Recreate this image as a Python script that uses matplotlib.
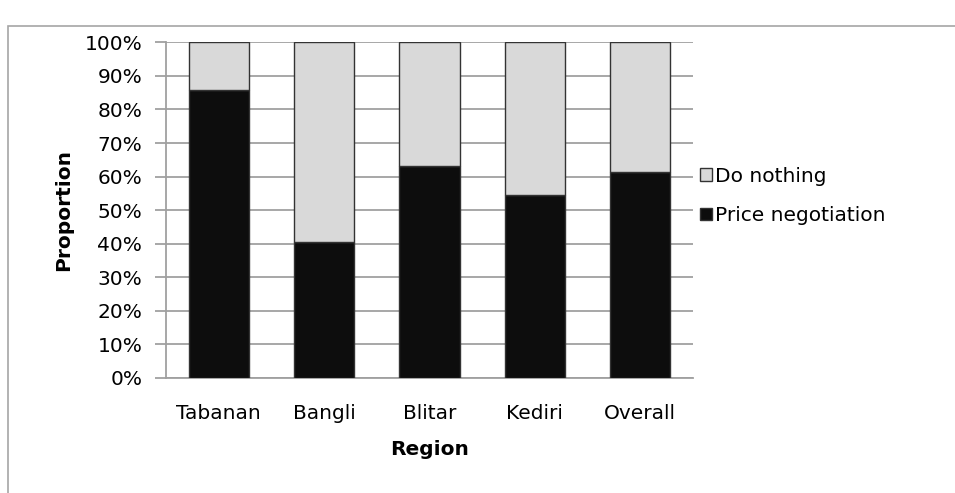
import matplotlib.pyplot as plt
from matplotlib.patches import Rectangle
from matplotlib.ticker import PercentFormatter

plt.rcParams['font.family'] = ['DejaVu Sans']

# Data
regions = ['Tabanan', 'Bangli', 'Blitar', 'Kediri', 'Overall']
price_negotiation = [85.7, 40.6, 63.2, 54.6, 61.4]
do_nothing = [100 - v for v in price_negotiation]

fs = 14.5

fig = plt.figure(figsize=(9.55, 4.93), dpi=100)
ax = fig.add_axes([0.1738, 0.2333, 0.5519, 0.6809])

# Outer chart-area border
fig.patches.append(Rectangle((8 / 955, -0.1), 1.2, 1 - 26 / 493 + 0.1,
                             transform=fig.transFigure, fill=False,
                             edgecolor='#a6a6a6', linewidth=1.2))

x = range(len(regions))
b1 = ax.bar(x, price_negotiation, width=0.57, color='#0d0d0d',
            edgecolor='#333333', linewidth=1, zorder=3, label='Price negotiation')
b2 = ax.bar(x, do_nothing, bottom=price_negotiation, width=0.57, color='#d9d9d9',
            edgecolor='#333333', linewidth=1, zorder=3, label='Do nothing')

ax.set_xlim(-0.5, len(regions) - 0.5)
ax.set_ylim(0, 100)
ax.set_yticks(range(0, 101, 10))
ax.yaxis.set_major_formatter(PercentFormatter(decimals=0))
ax.set_xticks(list(x))
ax.set_xticklabels(regions)

ax.grid(axis='y', color='#a0a0a0', linewidth=1.3, zorder=0)
for s in ['top', 'right']:
    ax.spines[s].set_visible(False)
for s in ['left', 'bottom']:
    ax.spines[s].set_color('#a0a0a0')
    ax.spines[s].set_linewidth(1.3)

ax.tick_params(axis='y', length=8, width=1.3, color='#a0a0a0', labelsize=fs, pad=9)
ax.tick_params(axis='x', length=0, labelsize=fs, pad=19)

ax.set_ylabel('Proportion', fontsize=fs, fontweight='bold', labelpad=8)
ax.set_xlabel('Region', fontsize=fs, fontweight='bold', labelpad=12)

fig.legend(handles=[b2, b1], loc='center left',
           bbox_to_anchor=(692 / 955, 1 - 196 / 493), frameon=False,
           fontsize=fs, handlelength=0.6, handleheight=0.6,
           handletextpad=0.15, labelspacing=1.0, borderaxespad=0)

fig.savefig('out.png', dpi=100)
